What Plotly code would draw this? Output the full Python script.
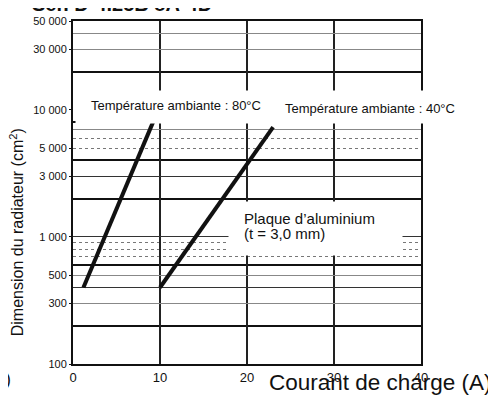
import numpy as np
import plotly.graph_objects as go

# Courbes : courant de charge (A) -> dimension du radiateur (cm2)
courant_80 = [1.2, 9.2]
surface_80 = [400, 8000]
courant_40 = [10, 23]
surface_40 = [400, 7300]

# Axes
x_ticks = [0, 10, 20, 30, 40]
y_ticks = [100, 300, 500, 1000, 3000, 5000, 10000, 30000, 50000]
y_ticktext = ["100", "300", "500", "1 000", "3 000", "5 000", "10 000", "30 000", "50 000"]

# Lignes de grille horizontales (par style)
grid_epais = [200, 600, 2000, 4000, 8000, 20000]
grid_moyen = [400, 1000, 3000]
grid_gris = [300, 500, 7000, 30000, 40000]
grid_points = [700, 800, 900, 5000, 6000]

FONT = "Liberation Sans, Arial, sans-serif"
y_range = [2, np.log10(50000)]

fig = go.Figure()

fig.add_trace(go.Scatter(
    x=courant_80, y=surface_80, mode='lines',
    line=dict(color='#111', width=4), showlegend=False
))
fig.add_trace(go.Scatter(
    x=courant_40, y=surface_40, mode='lines',
    line=dict(color='#111', width=4), showlegend=False
))
# traces vides pour activer les axes superposés
fig.add_trace(go.Scatter(x=[], y=[], yaxis='y2', showlegend=False))
fig.add_trace(go.Scatter(x=[], y=[], yaxis='y3', showlegend=False))

# la page ajoute 8 px de marge : figure réduite d'autant
fig.update_layout(
    width=488, height=393,
    margin=dict(l=65, r=75, t=7, b=37),
    paper_bgcolor='white', plot_bgcolor='white',
    font=dict(family=FONT, color='#111'),
    xaxis=dict(
        range=[0, 40], tickvals=x_ticks,
        showgrid=True, gridcolor='#222', gridwidth=1.5,
        showline=True, mirror=True, linecolor='#111', linewidth=2,
        zeroline=False, ticks='', tickfont=dict(size=13)
    ),
    yaxis=dict(
        type='log', range=y_range,
        tickvals=y_ticks, ticktext=y_ticktext,
        showgrid=False, zeroline=False,
        showline=True, mirror=True, linecolor='#111', linewidth=2,
        ticks='outside', ticklen=2, tickcolor='#111',
        tickfont=dict(size=11),
        minor=dict(tickvals=grid_epais, showgrid=True,
                   gridcolor='#111', gridwidth=2, ticks='')
    ),
    yaxis2=dict(
        type='log', range=y_range, overlaying='y', side='left',
        tickvals=grid_moyen, showticklabels=False, ticks='',
        showgrid=True, gridcolor='#333', gridwidth=1.3,
        showline=False, zeroline=False,
        minor=dict(tickvals=grid_points, showgrid=True, gridcolor='#777',
                   gridwidth=1, griddash='dot', ticks='')
    ),
    yaxis3=dict(
        type='log', range=y_range, overlaying='y', side='left',
        tickvals=grid_gris, showticklabels=False, ticks='',
        showgrid=True, gridcolor='#888', gridwidth=1,
        showline=False, zeroline=False
    ),
)


def note(text, x, y, size, xanchor='center', yanchor='middle', **kw):
    return dict(text=text, x=x, y=y, xref='paper', yref='paper',
                xanchor=xanchor, yanchor=yanchor, showarrow=False,
                font=dict(size=size), **kw)


annotations = [
    # bandeau blanc derrière les températures
    dict(text=' ', x=0.006, y=0.7994, xref='paper', yref='paper',
         xanchor='left', yanchor='top', width=392, height=32,
         bgcolor='white', borderpad=0, showarrow=False),
    # cadre blanc derrière la plaque
    dict(text=' ', x=0.4454, y=0.4756, xref='paper', yref='paper',
         xanchor='left', yanchor='top', width=173, height=53,
         bgcolor='white', borderpad=0, showarrow=False),
    note('Température ambiante : 80°C', 0.2974, 0.7536, 13),
    note('Température ambiante : 40°C', 0.8534, 0.745, 13),
    note('Plaque d’aluminium', 0.4856, 0.4241, 15, xanchor='left'),
    note('(t = 3,0 mm)', 0.4856, 0.381, 15, xanchor='left'),
    note('Dimension du radiateur (cm<sup>2</sup>)', -0.161, 0.384, 16,
         textangle=-90),
    note('Courant de charge (A)', 1.2098, -0.0544, 22.5, xanchor='right'),
    note(')', -0.201, -0.043, 18, xanchor='left'),
    note('<b>Sér. D-4.25B 8A-4D</b>', 0.1408, 1.0488, 20),
]
fig.update_layout(annotations=annotations)

fig.write_html("out.html")
